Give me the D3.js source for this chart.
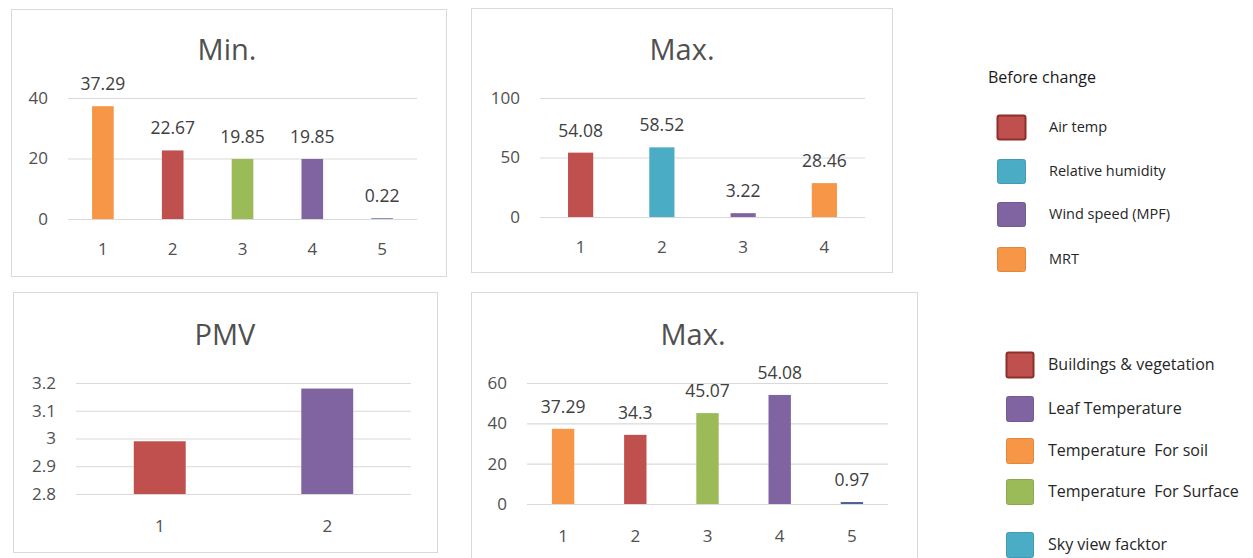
<!DOCTYPE html>
<html>
<head>
<meta charset="utf-8">
<script src="https://cdn.jsdelivr.net/npm/d3@7"></script>
<style>
  html, body { margin: 0; padding: 0; background: #fff; }
  svg { display: block; }
  text { font-family: "Open Sans", "Liberation Sans", sans-serif; }
</style>
</head>
<body>
<svg id="chart" width="1253" height="558"></svg>
<script>
// ---- data ----
const categories5 = ["1", "2", "3", "4", "5"];
const categories4 = ["1", "2", "3", "4"];
const categories2 = ["1", "2"];

// Min. — surface / vegetation factors
const minValues = [37.29, 22.67, 19.85, 19.85, 0.22];
const minSeries = ["Temperature  For soil", "Buildings & vegetation", "Temperature  For Surface", "Leaf Temperature", "Sky view facktor"];
const minTicks = [0, 20, 40];

// Max. — climate parameters before change
const maxClimateValues = [54.08, 58.52, 3.22, 28.46];
const maxClimateSeries = ["Air temp", "Relative humidity", "Wind speed (MPF)", "MRT"];
const maxClimateTicks = [0, 50, 100];

// PMV
const pmvValues = [2.99, 3.18];
const pmvSeries = ["Buildings & vegetation", "Leaf Temperature"];
const pmvTicks = [2.8, 2.9, 3.0, 3.1, 3.2];

// Max. — surface / vegetation factors
const maxSurfaceValues = [37.29, 34.3, 45.07, 54.08, 0.97];
const maxSurfaceSeries = ["Temperature  For soil", "Buildings & vegetation", "Temperature  For Surface", "Leaf Temperature", "Sky view facktor"];
const maxSurfaceTicks = [0, 20, 40, 60];

// legends
const legendTopTitle = "Before change";
const legendTopItems = ["Air temp", "Relative humidity", "Wind speed (MPF)", "MRT"];
const legendBottomItems = ["Buildings & vegetation", "Leaf Temperature", "Temperature  For soil", "Temperature  For Surface", "Sky view facktor"];

// ---- palette ----
const color = d3.scaleOrdinal()
  .domain(["Air temp", "Relative humidity", "Wind speed (MPF)", "MRT",
           "Buildings & vegetation", "Leaf Temperature", "Temperature  For soil",
           "Temperature  For Surface", "Sky view facktor"])
  .range(["#C0504D", "#4BACC6", "#8064A2", "#F79646",
          "#C0504D", "#8064A2", "#F79646", "#9BBB59", "#4BACC6"]);
const stroke = d3.scaleOrdinal()
  .domain(["Air temp", "Buildings & vegetation"])
  .range(["#8E2F2C", "#8E2F2C"])
  .unknown(null);

const svg = d3.select("#chart");
const GRID = "#d9d9d9";

function panel(cfg) {
  const g = svg.append("g");
  // frame
  g.append("rect")
    .attr("x", cfg.frame[0] + 0.5).attr("y", cfg.frame[1] + 0.5)
    .attr("width", cfg.frame[2] - cfg.frame[0]).attr("height", cfg.frame[3] - cfg.frame[1])
    .attr("fill", "#fff").attr("stroke", GRID).attr("stroke-width", 1);

  // title
  g.append("text")
    .attr("x", cfg.titleX).attr("y", cfg.titleY)
    .attr("text-anchor", "middle")
    .attr("font-size", 29).attr("fill", "#505050")
    .text(cfg.title);

  const x = d3.scaleBand().domain(cfg.categories)
    .range([cfg.plot[0], cfg.plot[1]])
    .paddingInner(0.69).paddingOuter(0.345);
  const y = d3.scaleLinear().domain(cfg.domain).range([cfg.plot[3], cfg.plot[2]]);

  // gridlines + y labels via axis
  const yAxis = d3.axisLeft(y).tickValues(cfg.ticks)
    .tickSize(-(cfg.plot[1] - cfg.plot[0]))
    .tickPadding(20)
    .tickFormat(cfg.tickFormat || d3.format("~g"));
  const ay = g.append("g")
    .attr("transform", `translate(${cfg.plot[0]},0)`)
    .call(yAxis);
  ay.select(".domain").remove();
  ay.selectAll(".tick line").attr("stroke", GRID).attr("stroke-width", 1.2);
  ay.selectAll(".tick text").attr("font-size", 17).attr("fill", "#505050")
    .attr("font-family", "Open Sans, sans-serif");

  // x labels via axis
  const xAxis = d3.axisBottom(x).tickSize(0).tickPadding(cfg.xPad);
  const ax = g.append("g")
    .attr("transform", `translate(0,${cfg.plot[3]})`)
    .call(xAxis);
  ax.select(".domain").remove();
  ax.selectAll(".tick text").attr("font-size", 17).attr("fill", "#505050")
    .attr("font-family", "Open Sans, sans-serif");

  const data = cfg.categories.map((c, i) => ({ c, v: cfg.values[i], s: cfg.series[i] }));
  const base = cfg.domain[0];

  g.selectAll("rect.bar").data(data).join("rect")
    .attr("class", "bar")
    .attr("x", d => x(d.c))
    .attr("width", x.bandwidth())
    .attr("y", d => y(d.v))
    .attr("height", d => y(base) - y(d.v))
    .attr("fill", d => (d.s === "Sky view facktor" ? "#4E5E9C" : color(d.s)));

  if (cfg.labels) {
    g.selectAll("text.val").data(data).join("text")
      .attr("class", "val")
      .attr("x", d => x(d.c) + x.bandwidth() / 2)
      .attr("y", d => y(d.v) - 16)
      .attr("text-anchor", "middle")
      .attr("font-size", 17.5).attr("fill", "#404040")
      .text(d => d.v);
  }
}

panel({
  title: "Min.", titleX: 227, titleY: 60,
  frame: [11, 9, 446, 276], plot: [68, 417, 98, 219],
  categories: categories5, values: minValues, series: minSeries,
  domain: [0, 40], ticks: minTicks, labels: true, xPad: 24
});

panel({
  title: "Max.", titleX: 682, titleY: 60,
  frame: [471, 8, 892, 272], plot: [540, 865, 98, 217],
  categories: categories4, values: maxClimateValues, series: maxClimateSeries,
  domain: [0, 100], ticks: maxClimateTicks, labels: true, xPad: 24
});

panel({
  title: "PMV", titleX: 225, titleY: 345,
  frame: [13, 292, 437, 552], plot: [76, 411, 383, 494],
  categories: categories2, values: pmvValues, series: pmvSeries,
  domain: [2.8, 3.2], ticks: pmvTicks, labels: false, xPad: 26,
  tickFormat: d => (d === 3 ? "3" : d3.format(".1f")(d))
});

panel({
  title: "Max.", titleX: 693, titleY: 345,
  frame: [471, 292, 917, 580], plot: [527, 888, 383, 504],
  categories: categories5, values: maxSurfaceValues, series: maxSurfaceSeries,
  domain: [0, 60], ticks: maxSurfaceTicks, labels: true, xPad: 26
});

// ---- legends ----
svg.append("text")
  .attr("x", 988).attr("y", 83)
  .attr("font-family", "Liberation Serif, Times New Roman, serif")
  .attr("font-size", 16).attr("fill", "#1a1a1a")
  .text(legendTopTitle);

function legend(items, x0, tops, w, h, textX, size) {
  const g = svg.append("g");
  const rows = g.selectAll("g").data(items).join("g");
  rows.append("rect")
    .attr("x", x0 + 0.5).attr("y", (d, i) => tops[i] + 0.5)
    .attr("width", w).attr("height", h)
    .attr("rx", 2)
    .attr("fill", d => color(d))
    .attr("stroke", d => stroke(d) || d3.color(color(d)).darker(0.3))
    .attr("stroke-width", d => (stroke(d) ? 2 : 1));
  rows.append("text")
    .attr("x", textX).attr("y", (d, i) => tops[i] + h / 2)
    .attr("dy", "0.35em")
    .attr("font-size", size).attr("fill", "#262626")
    .style("white-space", "pre")
    .text(d => d);
}

legend(legendTopItems, 997, [115, 159, 202, 247], 28, 24, 1049, 14.5);
legend(legendBottomItems, 1006, [352, 396, 438, 479, 532], 27, 25, 1048, 16);
</script>
</body>
</html>
